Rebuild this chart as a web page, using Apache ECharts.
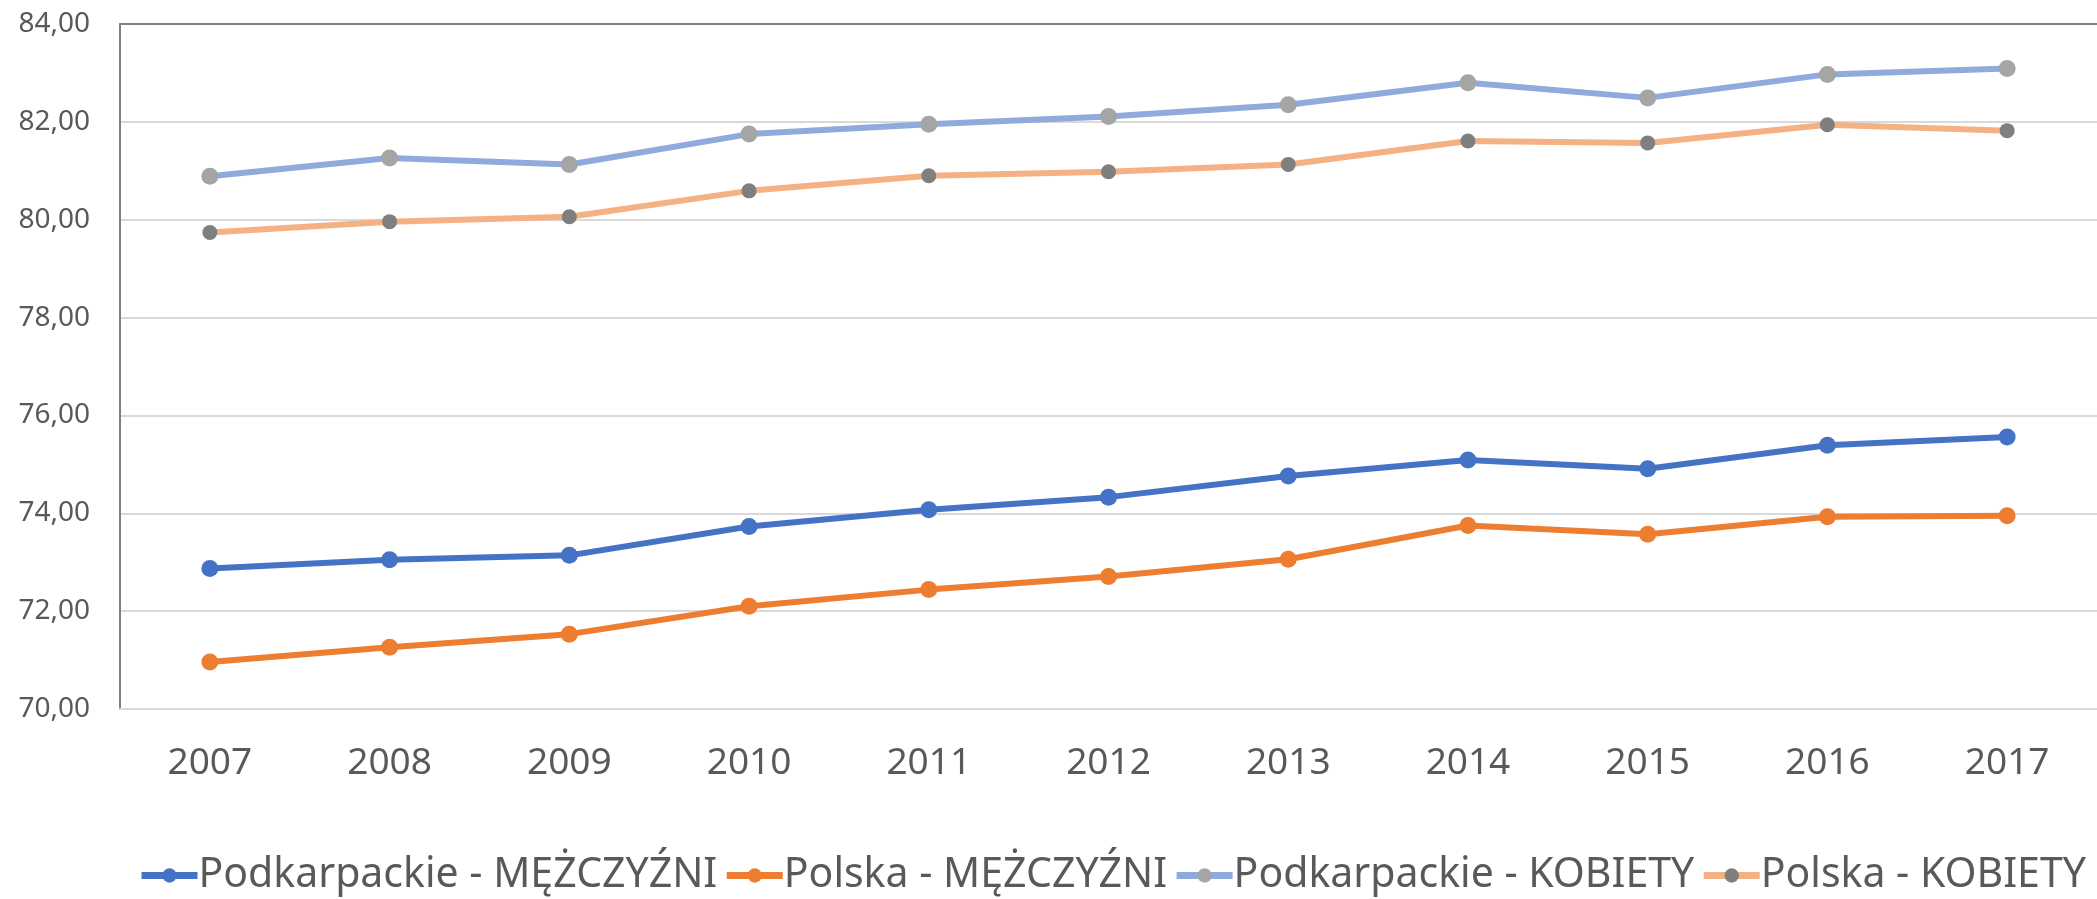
<!DOCTYPE html>
<html>
<head>
<meta charset="utf-8">
<script src="https://cdn.jsdelivr.net/npm/echarts@6/dist/echarts.min.js"></script>
<style>
  html, body {margin: 0; padding: 0; background: #fff;}
  #chart {width: 2097px; height: 899px;}
</style>
</head>
<body>
<div id="chart"></div>
<script>
// lata
const years = ['2007', '2008', '2009', '2010', '2011', '2012', '2013', '2014', '2015', '2016', '2017'];

const podkarpackieM = [72.87, 73.05, 73.14, 73.73, 74.07, 74.33, 74.76, 75.09, 74.91, 75.39, 75.56];
const polskaM = [70.96, 71.26, 71.53, 72.10, 72.44, 72.71, 73.06, 73.75, 73.57, 73.93, 73.95];
const podkarpackieK = [80.89, 81.26, 81.13, 81.75, 81.95, 82.11, 82.35, 82.80, 82.49, 82.97, 83.09];
const polskaK = [79.74, 79.96, 80.06, 80.59, 80.90, 80.98, 81.13, 81.61, 81.57, 81.94, 81.82];

const seriesNames = ['Podkarpackie - MĘŻCZYŹNI', 'Polska - MĘŻCZYŹNI', 'Podkarpackie - KOBIETY', 'Polska - KOBIETY'];

const font = '"Noto Sans", sans-serif';

function lineSeries(name, data, lineColor, dotColor, dotSize) {
  return {
    name: name,
    type: 'line',
    data: data,
    symbol: 'circle',
    symbolSize: dotSize,
    showSymbol: true,
    lineStyle: {color: lineColor, width: 6},
    itemStyle: {color: dotColor},
    emphasis: {disabled: true},
    animation: false
  };
}

const myChart = echarts.init(document.getElementById('chart'));

const option = {
  backgroundColor: '#ffffff',
  grid: {
    left: 120,
    top: 24,
    width: 1986,
    height: 685
  },
  legend: {
    data: seriesNames,
    left: 138,
    top: 855,
    width: 1990,
    padding: 0,
    itemWidth: 56,
    itemHeight: 18,
    itemGap: 6,
    lineStyle: {width: 7},
    textStyle: {
      fontFamily: font,
      fontSize: 41,
      color: '#595959',
      padding: [0, 0, 0, -4]
    }
  },
  xAxis: [
    {
      type: 'category',
      data: years,
      boundaryGap: true,
      axisLine: {lineStyle: {color: '#d9d9d9', width: 2}},
      axisTick: {show: false},
      axisLabel: {
        fontFamily: font,
        fontSize: 37,
        color: '#595959',
        margin: 36
      }
    },
    {
      // górna ramka
      type: 'category',
      data: years,
      position: 'top',
      axisLine: {lineStyle: {color: '#7f7f7f', width: 2}},
      axisTick: {show: false},
      axisLabel: {show: false}
    }
  ],
  yAxis: {
    type: 'value',
    min: 70,
    max: 84,
    interval: 2,
    axisLine: {show: true, lineStyle: {color: '#7f7f7f', width: 2}},
    axisTick: {show: false},
    splitLine: {lineStyle: {color: '#d9d9d9', width: 2}},
    axisLabel: {
      fontFamily: font,
      fontSize: 28,
      color: '#595959',
      margin: 30,
      formatter: function (v) {
        return v.toFixed(2).replace('.', ',');
      }
    }
  },
  series: [
    lineSeries(seriesNames[0], podkarpackieM, '#4472C4', '#4472C4', 17),
    lineSeries(seriesNames[1], polskaM, '#ED7D31', '#ED7D31', 17),
    lineSeries(seriesNames[2], podkarpackieK, '#8FAADC', '#A5A5A5', 17),
    lineSeries(seriesNames[3], polskaK, '#F4B183', '#7F7F7F', 15)
  ]
};

myChart.setOption(option);
</script>
</body>
</html>
